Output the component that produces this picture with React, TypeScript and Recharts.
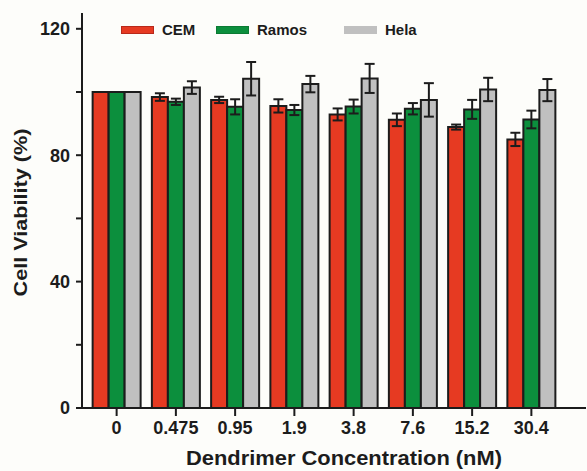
import React from 'react'
import { BarChart, Bar, XAxis, YAxis, ErrorBar, Legend } from 'recharts'

const concentrations = ['0', '0.475', '0.95', '1.9', '3.8', '7.6', '15.2', '30.4']
const cem = [100, 98.4, 97.5, 95.6, 92.9, 91.2, 88.9, 85.0]
const cemErr = [null, 1.2, 1.0, 2.1, 1.9, 2.0, 0.8, 2.1]
const ramos = [100, 96.9, 95.3, 94.3, 95.4, 94.7, 94.5, 91.3]
const ramosErr = [null, 1.0, 2.4, 1.6, 2.2, 1.8, 3.0, 2.8]
const hela = [100, 101.4, 104.2, 102.5, 104.3, 97.5, 100.8, 100.6]
const helaErr = [null, 2.0, 5.3, 2.6, 4.6, 5.3, 3.7, 3.5]
const yTicks = [0, 20, 40, 60, 80, 100, 120]
const labeledTicks = [0, 40, 80, 120]

const SERIES = [
  { key: 'CEM', fill: '#e63a22', swatchBorder: '#b8281a' },
  { key: 'Ramos', fill: '#0c8f3d', swatchBorder: '#0b7a33' },
  { key: 'Hela', fill: '#c0c0c0', swatchBorder: '#c0c0c0' },
]

const data = concentrations.map((c, i) => ({
  conc: c,
  CEM: cem[i],
  CEMerr: cemErr[i],
  Ramos: ramos[i],
  Ramoserr: ramosErr[i],
  Hela: hela[i],
  Helaerr: helaErr[i],
}))

const FONT = "'Liberation Sans', Arial, sans-serif"
const INK = '#1c1c1c'

// legend height is 0 so recharts does not shrink the plot for it
function LegendRow() {
  const offsets = [0, 95, 223]
  return (
    <div style={{ position: 'relative', height: 0, fontFamily: FONT }}>
      {SERIES.map((s, i) => (
        <div
          key={s.key}
          style={{
            position: 'absolute',
            left: offsets[i],
            top: 0,
            display: 'flex',
            alignItems: 'center',
            whiteSpace: 'nowrap',
          }}
        >
          <span
            style={{
              display: 'inline-block',
              width: 31,
              height: 6,
              background: s.fill,
              border: `1px solid ${s.swatchBorder}`,
              marginRight: 8,
            }}
          />
          <span style={{ fontSize: 15, fontWeight: 'bold', color: INK }}>{s.key}</span>
        </div>
      ))}
    </div>
  )
}

export default function App() {
  return (
    <div style={{ position: 'absolute', left: 0, top: 0, width: 587, height: 471, background: '#fdfdfa' }}>
      <BarChart
        width={587}
        height={471}
        data={data}
        margin={{ top: 13, right: 1, bottom: 8, left: 0 }}
        barCategoryGap="9.5%"
        barGap={0}
      >
        <XAxis
          dataKey="conc"
          height={55}
          padding={{ left: 5, right: 25 }}
          axisLine={{ stroke: INK, strokeWidth: 2 }}
          tickLine={{ stroke: INK, strokeWidth: 2 }}
          tickSize={8}
          tickMargin={5}
          tick={{ fill: INK, fontSize: 18, fontWeight: 'bold', fontFamily: FONT }}
          label={{
            content: () => (
              <text
                x={344}
                y={465}
                textAnchor="middle"
                fill={INK}
                fontSize={20}
                fontWeight="bold"
                fontFamily={FONT}
                textLength={316}
                lengthAdjust="spacingAndGlyphs"
              >
                Dendrimer Concentration (nM)
              </text>
            ),
          }}
        />
        <YAxis
          width={82}
          domain={[0, 125]}
          ticks={yTicks}
          interval={0}
          allowDataOverflow
          axisLine={{ stroke: INK, strokeWidth: 2 }}
          tickLine={{ stroke: INK, strokeWidth: 2 }}
          tickSize={6}
          tickMargin={6}
          tickFormatter={(v: number) => (labeledTicks.includes(v) ? String(v) : '')}
          tick={{ fill: INK, fontSize: 18, fontWeight: 'bold', fontFamily: FONT }}
          label={{
            content: (props: any) => {
              const vb = props.viewBox
              const cy = vb.y + vb.height / 2 + 2
              return (
                <text
                  x={27}
                  y={cy}
                  transform={`rotate(-90 27 ${cy})`}
                  textAnchor="middle"
                  fill={INK}
                  fontSize={19}
                  fontWeight="bold"
                  fontFamily={FONT}
                  textLength={168}
                  lengthAdjust="spacingAndGlyphs"
                >
                  Cell Viability (%)
                </text>
              )
            },
          }}
        />
        <Legend
          verticalAlign="middle"
          align="center"
          wrapperStyle={{ top: 21, left: 121, width: 320, height: 0 }}
          content={() => <LegendRow />}
        />
        {SERIES.map((s) => (
          <Bar
            key={s.key}
            dataKey={s.key}
            fill={s.fill}
            stroke={INK}
            strokeWidth={2}
            isAnimationActive={false}
          >
            <ErrorBar dataKey={`${s.key}err`} width={5} stroke={INK} strokeWidth={2} />
          </Bar>
        ))}
      </BarChart>
    </div>
  )
}
